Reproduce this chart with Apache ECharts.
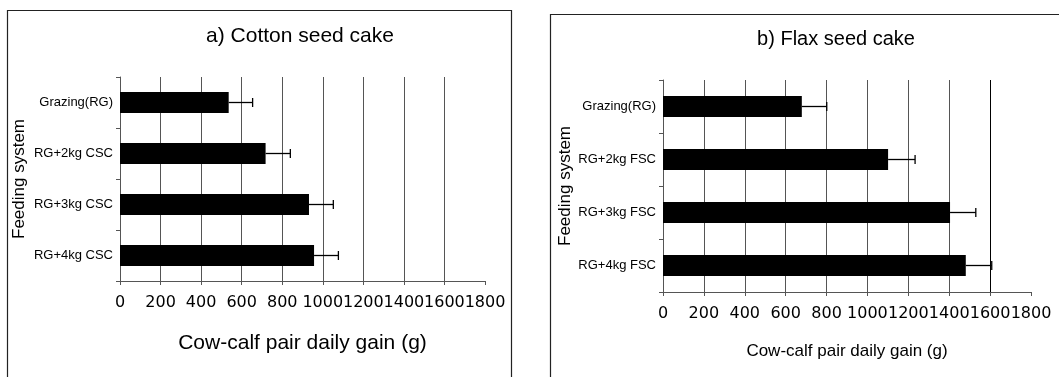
<!DOCTYPE html>
<html>
<head>
<meta charset="utf-8">
<script src="https://cdn.jsdelivr.net/npm/echarts@6/dist/echarts.min.js"></script>
<style>
  html, body { margin: 0; padding: 0; background: #fff; }
  #chart { width: 1059px; height: 377px; }
</style>
</head>
<body>
<div id="chart"></div>
<script>
// ---- data ----
const categoriesA = ['Grazing(RG)', 'RG+2kg CSC', 'RG+3kg CSC', 'RG+4kg CSC'];
const gainA = [536, 718, 932, 957];
const errA = [118, 122, 120, 120];

const categoriesB = ['Grazing(RG)', 'RG+2kg FSC', 'RG+3kg FSC', 'RG+4kg FSC'];
const gainB = [679, 1101, 1404, 1481];
const errB = [122, 132, 126, 127];

const titleA = 'a) Cotton seed cake';
const titleB = 'b) Flax seed cake';
const xName = 'Cow-calf pair daily gain (g)';
const yName = 'Feeding system';
const xMin = 0, xMax = 1800, xStep = 200;
const refLineB = 1600;

// ---- chart ----
const FONT = 'Liberation Sans, Arial, sans-serif';
const TICKFONT = 'DejaVu Sans, sans-serif';
const chart = echarts.init(document.getElementById('chart'), null, { renderer: 'canvas' });

function errRender(params, api) {
  const v = api.value(0), cat = api.value(1), e = api.value(2);
  const p0 = api.coord([v, cat]);
  const p1 = api.coord([v + e, cat]);
  const st = { stroke: '#000', lineWidth: 1.3 };
  return {
    type: 'group',
    children: [
      { type: 'line', shape: { x1: p0[0], y1: p0[1], x2: p1[0], y2: p1[1] }, style: st },
      { type: 'line', shape: { x1: p1[0], y1: p1[1] - 4.5, x2: p1[0], y2: p1[1] + 4.5 }, style: st }
    ]
  };
}

function xAxisCfg(gridIndex, nameSize, nameGap, labelMargin) {
  return {
    type: 'value', gridIndex, min: xMin, max: xMax, interval: xStep,
    name: xName, nameLocation: 'middle', nameGap,
    nameTextStyle: { fontFamily: FONT, fontSize: nameSize, color: '#000' },
    axisLine: { show: true, lineStyle: { color: '#555', width: 1 } },
    axisTick: { show: true, length: 4, lineStyle: { color: '#555' } },
    axisLabel: { fontFamily: TICKFONT, fontSize: 16, color: '#000', margin: labelMargin,
      formatter: (v) => String(v) },
    splitLine: { show: true, showMinLine: false, showMaxLine: false, lineStyle: { color: '#555', width: 1 } }
  };
}

function yAxisCfg(gridIndex, cats, nameGap) {
  return {
    type: 'category', gridIndex, data: cats, inverse: true,
    name: yName, nameLocation: 'middle', nameGap, nameRotate: 90,
    nameTextStyle: { fontFamily: FONT, fontSize: 17, color: '#000' },
    axisLine: { show: true, lineStyle: { color: '#555', width: 1 } },
    axisTick: { show: true, length: 4, lineStyle: { color: '#555' } },
    axisLabel: { fontFamily: FONT, fontSize: 13, color: '#000', margin: 7 },
    splitLine: { show: false }
  };
}

const option = {
  animation: false,
  backgroundColor: '#fff',
  title: [
    { text: titleA, left: 295, top: 21, textAlign: 'center',
      textStyle: { fontFamily: FONT, fontSize: 21, fontWeight: 'normal', color: '#000' } },
    { text: titleB, left: 831, top: 24, textAlign: 'center',
      textStyle: { fontFamily: FONT, fontSize: 20, fontWeight: 'normal', color: '#000' } }
  ],
  graphic: [
    { type: 'rect', shape: { x: 7.5, y: 10.5, width: 504, height: 400 },
      style: { fill: 'none', stroke: '#222', lineWidth: 1.2 }, z: -1 },
    { type: 'rect', shape: { x: 550.5, y: 14.5, width: 540, height: 400 },
      style: { fill: 'none', stroke: '#222', lineWidth: 1.2 }, z: -1 }
  ],
  grid: [
    { left: 120, top: 77, width: 365, height: 204, containLabel: false },
    { left: 663, top: 80, width: 368, height: 212, containLabel: false }
  ],
  xAxis: [xAxisCfg(0, 21, 52, 14), xAxisCfg(1, 17, 51, 14)],
  yAxis: [yAxisCfg(0, categoriesA, 92), yAxisCfg(1, categoriesB, 89)],
  series: [
    { type: 'bar', xAxisIndex: 0, yAxisIndex: 0, data: gainA, barWidth: 21,
      itemStyle: { color: '#000' } },
    { type: 'custom', xAxisIndex: 0, yAxisIndex: 0, renderItem: errRender,
      encode: { x: 0, y: 1 },
      data: gainA.map((v, i) => [v, i, errA[i]]), z: 3 },
    { type: 'bar', xAxisIndex: 1, yAxisIndex: 1, data: gainB, barWidth: 21,
      itemStyle: { color: '#000' },
      markLine: { silent: true, symbol: 'none', label: { show: false },
        lineStyle: { color: '#000', type: 'solid', width: 1 },
        data: [{ xAxis: refLineB }] } },
    { type: 'custom', xAxisIndex: 1, yAxisIndex: 1, renderItem: errRender,
      encode: { x: 0, y: 1 },
      data: gainB.map((v, i) => [v, i, errB[i]]), z: 3 }
  ]
};
chart.setOption(option);
</script>
</body>
</html>
